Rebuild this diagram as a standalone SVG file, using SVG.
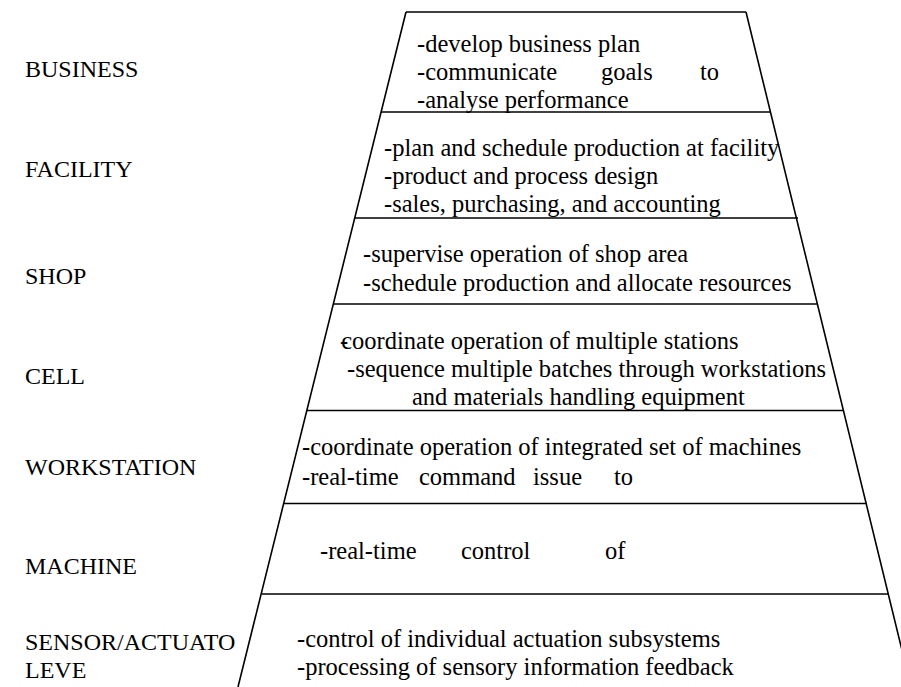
<svg xmlns="http://www.w3.org/2000/svg" width="901" height="687" viewBox="0 0 901 687">
<style>
text{font-family:"Liberation Serif","Times New Roman",serif;fill:#000}
.lbl{font-size:24px}
.t{font-size:24.5px}
.ln{stroke:#000;stroke-width:1.6;fill:none}
</style>
<rect width="901" height="687" fill="#fff"/>
<g id="labels">
<text class="lbl" x="25" y="77">BUSINESS</text>
<text class="lbl" x="25" y="177">FACILITY</text>
<text class="lbl" x="25" y="284">SHOP</text>
<text class="lbl" x="25" y="384">CELL</text>
<text class="lbl" x="25" y="475">WORKSTATION</text>
<text class="lbl" x="25" y="574">MACHINE</text>
<text class="lbl" x="25" y="650">SENSOR/ACTUATO</text>
<text class="lbl" x="25" y="678">LEVE</text>
</g>
<g id="pyramid">
<path class="ln" d="M406 12 L746 12 M406 12 L238 687 M746 12 L911 687"/>
</g>
<g id="dividers">
<line class="ln" x1="381" y1="112" x2="770" y2="112"/>
<line class="ln" x1="355" y1="218" x2="798" y2="218"/>
<line class="ln" x1="333" y1="304" x2="817" y2="304"/>
<line class="ln" x1="307" y1="410.5" x2="844" y2="410.5"/>
<line class="ln" x1="284" y1="503.5" x2="867" y2="503.5"/>
<line class="ln" x1="262" y1="594" x2="889" y2="594"/>
</g>
<g id="business">
<text class="t" x="417" y="52">-develop business plan</text>
<text class="t" x="417" y="80">-communicate</text>
<text class="t" x="601" y="80">goals</text>
<text class="t" x="700" y="80">to</text>
<text class="t" x="417" y="108">-analyse performance</text>
</g>
<g id="facility">
<text class="t" x="384" y="156">-plan and schedule production at facility</text>
<text class="t" x="384" y="184">-product and process design</text>
<text class="t" x="384" y="212">-sales, purchasing, and accounting</text>
</g>
<g id="shop">
<text class="t" x="363" y="262">-supervise operation of shop area</text>
<text class="t" x="363" y="291">-schedule production and allocate resources</text>
</g>
<g id="cell">
<text class="t" x="340" y="349">-<tspan dx="-7">coordinate operation of multiple stations</tspan></text>
<text class="t" x="347" y="377">-sequence multiple batches through workstations</text>
<text class="t" x="412" y="405">and materials handling equipment</text>
</g>
<g id="workstation">
<text class="t" x="302" y="455">-coordinate operation of integrated set of machines</text>
<text class="t" x="302" y="485">-real-time</text>
<text class="t" x="419" y="485">command</text>
<text class="t" x="533" y="485">issue</text>
<text class="t" x="614" y="485">to</text>
</g>
<g id="machine">
<text class="t" x="320" y="559">-real-time</text>
<text class="t" x="461" y="559">control</text>
<text class="t" x="605" y="559">of</text>
</g>
<g id="sensor">
<text class="t" x="297" y="647">-control of individual actuation subsystems</text>
<text class="t" x="297" y="675">-processing of sensory information feedback</text>
</g>
</svg>
